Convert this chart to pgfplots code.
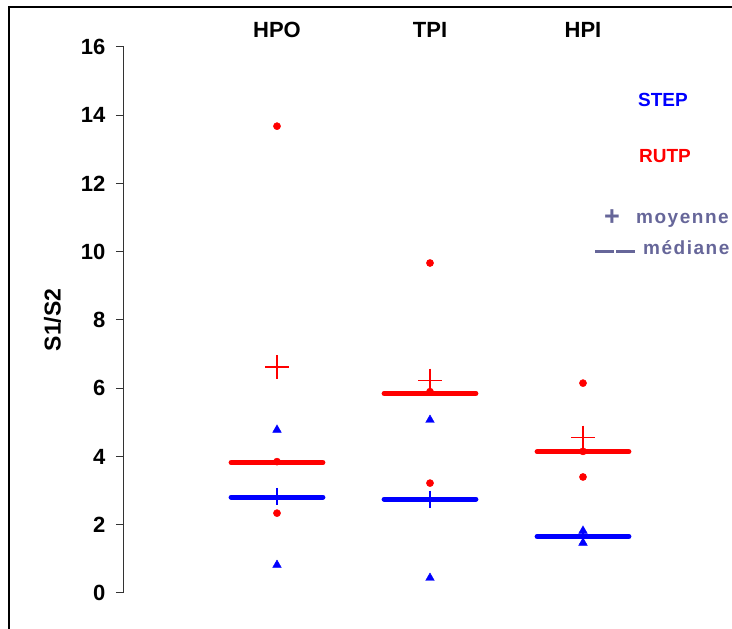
\documentclass[border=0pt]{standalone}
\usepackage{pgfplots}
\pgfplotsset{compat=1.18}
\usepackage{fontspec}
\setmainfont{Liberation Sans}
\newfontfamily\lsfont[LetterSpace=8]{Liberation Sans}
\definecolor{legc}{RGB}{102,102,153}
\begin{document}
\begin{tikzpicture}[x=1pt,y=1pt]
\useasboundingbox (0,0) rectangle (732,629);
\draw[line width=1.5pt] (9,0) -- (9,622) -- (732,622);
\begin{axis}[
  at={(124pt,36pt)}, anchor=south west,
  scale only axis, width=596.7pt, height=546pt,
  xmin=-1, xmax=2.9, ymin=0, ymax=16,
  axis y line*=left, axis x line*=top,
  x axis line style={draw=none},
  y axis line style={line width=1pt, black!80},
  xtick={0,1,2}, xticklabels={HPO,TPI,HPI},
  major x tick style={draw=none},
  ytick={0,2,...,16},
  major y tick style={line width=1pt, black!80},
  tick align=outside, major tick length=8pt,
  /pgf/number format/assume math mode=true,
  tick label style={font=\fontsize{22}{26}\selectfont\bfseries},
  yticklabel style={xshift=-7pt},
  xticklabel style={yshift=-2pt},
  ylabel={S1/S2},
  ylabel style={font=\fontsize{23}{26}\selectfont\bfseries, at={(axis description cs:-0.1199,0.5)}, anchor=center},
  clip=false,
]
% medians
\addplot[red, line width=5pt, line cap=round] coordinates {(-0.3,3.82) (0.3,3.82)};
\addplot[blue, line width=5pt, line cap=round] coordinates {(-0.3,2.81) (0.3,2.81)};
\addplot[red, line width=5pt, line cap=round] coordinates {(0.7,5.85) (1.3,5.85)};
\addplot[blue, line width=5pt, line cap=round] coordinates {(0.7,2.75) (1.3,2.75)};
\addplot[red, line width=5pt, line cap=round] coordinates {(1.7,4.14) (2.3,4.14)};
\addplot[blue, line width=5pt, line cap=round] coordinates {(1.7,1.66) (2.3,1.66)};
% RUTP points
\addplot[only marks, mark=*, mark size=3.6pt, red] coordinates {
  (0,13.68) (0,3.85) (0,2.34)
  (1,9.67) (1,5.9) (1,3.22)
  (2,6.15) (2,4.15) (2,3.40)};
% STEP points
\addplot[only marks, mark=triangle*, mark size=5pt, blue] coordinates {
  (0,4.78) (0,0.82)
  (1,5.07) (1,0.44)
  (2,1.82) (2,1.47)};
% means
\addplot[only marks, mark=+, mark size=12pt, red, line width=1.3pt] coordinates {(0,6.62) (1,6.22) (2,4.55)};
\addplot[only marks, mark=+, mark size=8.5pt, blue, line width=1.3pt] coordinates {(0,2.83) (1,2.75) (2,1.65)};
\end{axis}
\node[blue, font=\fontsize{19}{22}\selectfont\bfseries] at (663,529) {STEP};
\node[red, font=\fontsize{19}{22}\selectfont\bfseries] at (665,473) {RUTP};
\node[legc, font=\fontsize{27}{30}\selectfont\bfseries, anchor=base] at (612,403) {+};
\node[legc, font=\fontsize{19}{22}\selectfont\bfseries\lsfont, anchor=base west, inner sep=0pt] at (636,405) {moyenne};
\node[legc, anchor=base west, inner sep=0pt] at (595,376) {\textcolor{legc}{\rule{19pt}{2.8pt}}\hspace{2pt}\textcolor{legc}{\rule{19pt}{2.8pt}}};
\node[legc, font=\fontsize{19}{22}\selectfont\bfseries\lsfont, anchor=base west, inner sep=0pt] at (643,374) {médiane};
\end{tikzpicture}
\end{document}
